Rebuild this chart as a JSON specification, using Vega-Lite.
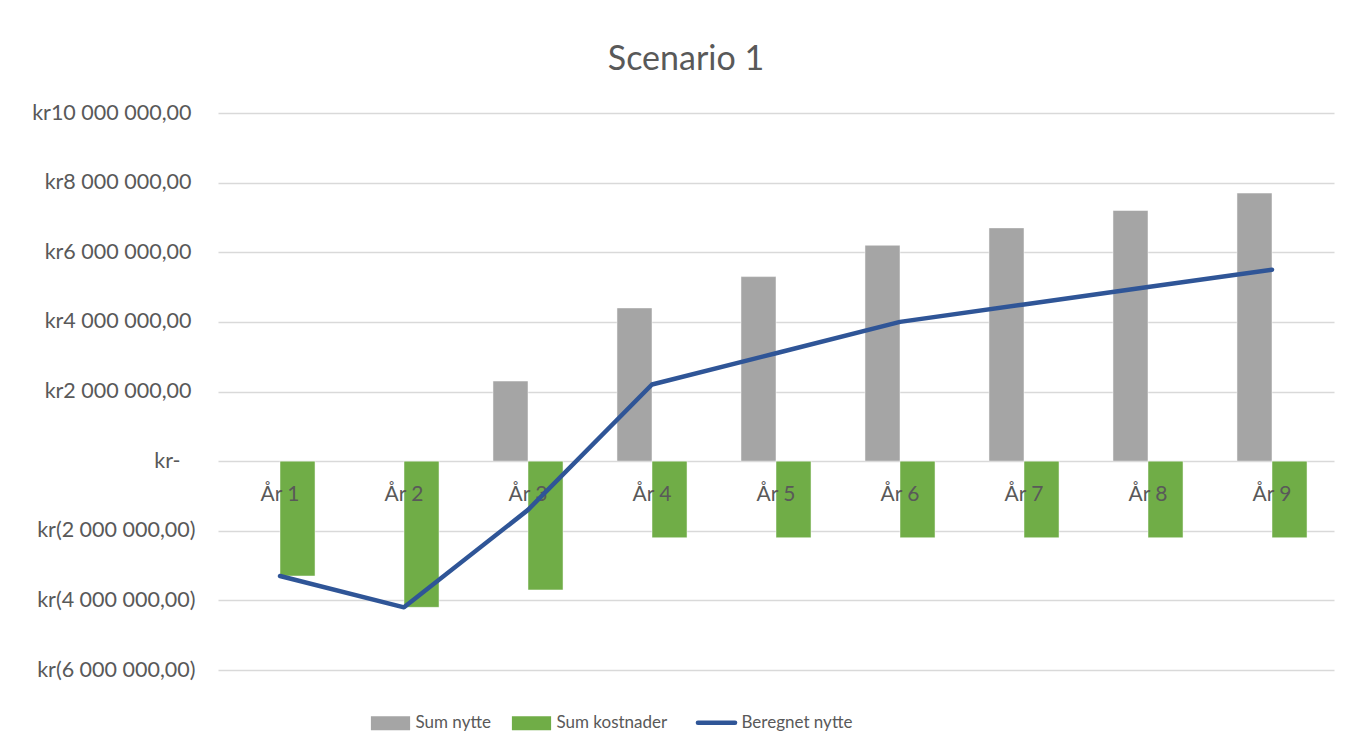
{
  "$schema": "https://vega.github.io/schema/vega-lite/v6.json",
  "width": 1116,
  "height": 557,
  "autosize": "none",
  "padding": {"left": 218, "top": 113, "right": 20, "bottom": 84},
  "background": "white",
  "config": {"font": "Lato", "view": {"stroke": null}},
  "title": {"text": "Scenario 1", "fontSize": 34, "fontWeight": "normal", "color": "#595959", "frame": "group", "anchor": "middle", "dx": -90, "baseline": "alphabetic", "offset": -2},
  "data": {"values": [
    {"year": "År 1", "series": "Sum kostnader", "value": -3300000},
    {"year": "År 2", "series": "Sum kostnader", "value": -4200000},
    {"year": "År 3", "series": "Sum kostnader", "value": -3700000},
    {"year": "År 4", "series": "Sum kostnader", "value": -2200000},
    {"year": "År 5", "series": "Sum kostnader", "value": -2200000},
    {"year": "År 6", "series": "Sum kostnader", "value": -2200000},
    {"year": "År 7", "series": "Sum kostnader", "value": -2200000},
    {"year": "År 8", "series": "Sum kostnader", "value": -2200000},
    {"year": "År 9", "series": "Sum kostnader", "value": -2200000},
    {"year": "År 3", "series": "Sum nytte", "value": 2300000},
    {"year": "År 4", "series": "Sum nytte", "value": 4400000},
    {"year": "År 5", "series": "Sum nytte", "value": 5300000},
    {"year": "År 6", "series": "Sum nytte", "value": 6200000},
    {"year": "År 7", "series": "Sum nytte", "value": 6700000},
    {"year": "År 8", "series": "Sum nytte", "value": 7200000},
    {"year": "År 9", "series": "Sum nytte", "value": 7700000},
    {"year": "År 1", "series": "Beregnet nytte", "value": -3300000},
    {"year": "År 2", "series": "Beregnet nytte", "value": -4200000},
    {"year": "År 3", "series": "Beregnet nytte", "value": -1400000},
    {"year": "År 4", "series": "Beregnet nytte", "value": 2200000},
    {"year": "År 5", "series": "Beregnet nytte", "value": 3100000},
    {"year": "År 6", "series": "Beregnet nytte", "value": 4000000},
    {"year": "År 7", "series": "Beregnet nytte", "value": 4500000},
    {"year": "År 8", "series": "Beregnet nytte", "value": 5000000},
    {"year": "År 9", "series": "Beregnet nytte", "value": 5500000}
  ]},
  "encoding": {
    "x": {"field": "year", "type": "nominal", "sort": ["År 1", "År 2", "År 3", "År 4", "År 5", "År 6", "År 7", "År 8", "År 9"], "scale": {"paddingInner": 0.435, "paddingOuter": 0.2175}, "axis": null},
    "y": {"field": "value", "type": "quantitative", "scale": {"domain": [-6000000, 10000000], "nice": false, "zero": true},
      "axis": {"title": null, "values": [-6000000, -4000000, -2000000, 0, 2000000, 4000000, 6000000, 8000000, 10000000],
        "labelExpr": "datum.value == 0 ? 'kr-' : (datum.value < 0 ? 'kr(' + replace(replace(format(-datum.value, ',.2f'), regexp(',', 'g'), ' '), '.', ',') + ')' : 'kr' + replace(replace(format(datum.value, ',.2f'), regexp(',', 'g'), ' '), '.', ','))",
        "grid": true, "gridColor": "#D9D9D9", "gridWidth": 1.3, "ticks": false, "domain": false,
        "labelFontSize": 21.5, "labelColor": "#595959",
        "labelPadding": {"condition": [{"test": "datum.value == 0", "value": 38}, {"test": "datum.value > 0", "value": 27}], "value": 23}}}
  },
  "layer": [
    {
      "transform": [{"filter": "datum.series !== 'Beregnet nytte'"}],
      "mark": {"type": "bar", "stroke": "white", "strokeWidth": 0.8, "strokeOpacity": 0.6},
      "encoding": {
        "xOffset": {"field": "series", "type": "nominal", "sort": ["Sum nytte", "Sum kostnader"], "scale": {"domain": ["Sum nytte", "Sum kostnader"], "paddingInner": 0, "paddingOuter": 0}},
        "color": {"field": "series", "type": "nominal",
          "scale": {"domain": ["Sum nytte", "Sum kostnader", "Beregnet nytte"], "range": ["#A5A5A5", "#70AD47", "#2F5597"]},
          "legend": {"orient": "none", "legendX": 164, "legendY": 601, "direction": "horizontal", "columns": 3, "title": null,
            "labelFontSize": 17, "labelColor": "#595959", "symbolSize": 196, "labelOffset": 16.5, "columnPadding": 20, "padding": 0,
            "encode": {"symbols": {"update": {
              "shape": {"signal": "datum.value === 'Beregnet nytte' ? 'M-2.65,0H2.65' : 'M-2.8,-1H2.8V1H-2.8Z'"},
              "fill": {"signal": "datum.value === 'Beregnet nytte' ? 'transparent' : (datum.value === 'Sum nytte' ? '#A5A5A5' : '#70AD47')"},
              "stroke": {"signal": "datum.value === 'Beregnet nytte' ? '#2F5597' : 'transparent'"},
              "strokeWidth": {"signal": "datum.value === 'Beregnet nytte' ? 4.5 : 0"},
              "strokeCap": {"value": "round"},
              "opacity": {"value": 1}
            }}}}}
      }
    },
    {
      "transform": [{"filter": "datum.series === 'Sum kostnader'"}],
      "mark": {"type": "text", "fontSize": 21, "color": "#595959", "baseline": "alphabetic", "dy": 40},
      "encoding": {"text": {"field": "year"}, "y": {"datum": 0, "type": "quantitative"}}
    },
    {
      "transform": [{"filter": "datum.series === 'Beregnet nytte'"}],
      "mark": {"type": "line", "strokeWidth": 4.5, "strokeCap": "round", "strokeJoin": "round"},
      "encoding": {
        "color": {"field": "series", "type": "nominal",
          "scale": {"domain": ["Sum nytte", "Sum kostnader", "Beregnet nytte"], "range": ["#A5A5A5", "#70AD47", "#2F5597"]},
          "legend": {"orient": "none", "legendX": 164, "legendY": 601, "direction": "horizontal", "columns": 3, "title": null,
            "labelFontSize": 17, "labelColor": "#595959", "symbolSize": 196, "labelOffset": 16.5, "columnPadding": 20, "padding": 0,
            "encode": {"symbols": {"update": {
              "shape": {"signal": "datum.value === 'Beregnet nytte' ? 'M-2.65,0H2.65' : 'M-2.8,-1H2.8V1H-2.8Z'"},
              "fill": {"signal": "datum.value === 'Beregnet nytte' ? 'transparent' : (datum.value === 'Sum nytte' ? '#A5A5A5' : '#70AD47')"},
              "stroke": {"signal": "datum.value === 'Beregnet nytte' ? '#2F5597' : 'transparent'"},
              "strokeWidth": {"signal": "datum.value === 'Beregnet nytte' ? 4.5 : 0"},
              "strokeCap": {"value": "round"},
              "opacity": {"value": 1}
            }}}}}
      }
    }
  ]
}
